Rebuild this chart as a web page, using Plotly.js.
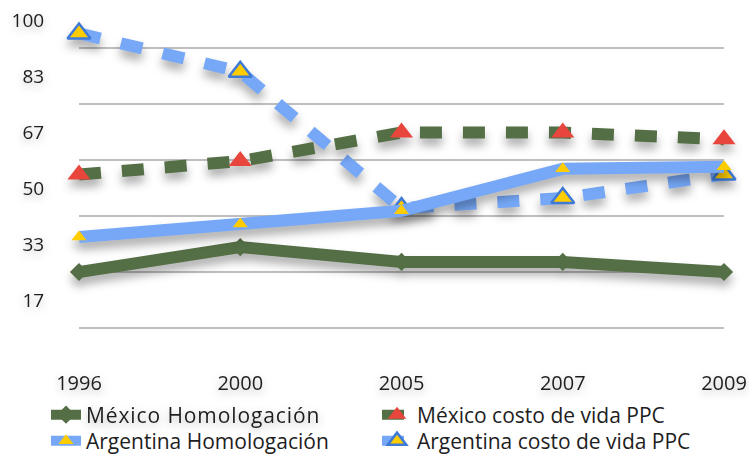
<!DOCTYPE html>
<html><head><meta charset="utf-8">
<script src="https://cdn.plot.ly/plotly-3.0.1.min.js"></script>
<style>
html,body{margin:0;padding:0;background:#fff;}
#chart{width:749px;height:457px;}
.scatterlayer .trace{filter:drop-shadow(0px 7px 5px rgba(0,0,0,0.32));}
.xtick text,.ytick text,.legendtext{filter:drop-shadow(0px 3px 4px rgba(0,0,0,0.28));}
.legendtext{letter-spacing:0.9px;}
</style></head><body><div id="chart"></div>
<script>
const years = ['1996', '2000', '2005', '2007', '2009'];
const mexicoHomologacion = [25, 32.4, 28, 28, 25];
const mexicoCostoVida = [54, 58, 66.5, 66.5, 64.5];
const argentinaHomologacion = [35.4, 39.3, 43.2, 55.7, 56.3];
const argentinaCostoVida = [96, 84.6, 44, 47, 54];
const yTickVals = [16.667, 33.333, 50, 66.667, 83.333, 100];
const yTickText = ['17', '33', '50', '67', '83', '100'];
const gridVals = [8.333, 25, 41.667, 58.333, 75, 91.667];
const seriesNames = ['México Homologación', 'México costo de vida PPC', 'Argentina Homologación', 'Argentina costo de vida PPC'];

const green = '#546f45', red = '#e8453c', blue = '#76a8f7', yellow = '#ffcc00', blueEdge = '#3f7ad6';
const dashPat = '22px,21px';

const traces = [
  {x: years, y: argentinaCostoVida, name: seriesNames[3], legend: 'legend4', mode: 'lines+markers', cliponaxis: false,
   line: {color: blue, width: 12, dash: dashPat},
   marker: {symbol: 'triangle-up', size: 20, color: yellow, line: {color: blueEdge, width: 2.5}}},
  {x: years, y: mexicoCostoVida, name: seriesNames[1], legend: 'legend2', mode: 'lines+markers', cliponaxis: false,
   line: {color: green, width: 12, dash: dashPat},
   marker: {symbol: 'triangle-up', size: 20, color: red}},
  {x: years, y: mexicoHomologacion, name: seriesNames[0], legend: 'legend', mode: 'lines+markers', cliponaxis: false,
   line: {color: green, width: 12},
   marker: {symbol: 'diamond', size: 14, color: green}},
  {x: years, y: argentinaHomologacion, name: seriesNames[2], legend: 'legend3', mode: 'lines+markers', cliponaxis: false,
   line: {color: blue, width: 12},
   marker: {symbol: 'triangle-up', size: 13, color: yellow}}
];

function leg(xpx, ypx) {
  return {orientation: 'v', xref: 'container', yref: 'container', x: xpx / 749, xanchor: 'left',
          y: 1 - ypx / 457, yanchor: 'middle', font: {size: 21}, itemwidth: 30,
          bgcolor: 'rgba(0,0,0,0)', borderwidth: 0};
}

const layout = {
  width: 749, height: 457,
  margin: {l: 79, r: 25, t: 20, b: 101, autoexpand: false},
  paper_bgcolor: '#fff', plot_bgcolor: '#fff',
  font: {family: '"Open Sans", sans-serif', color: '#1e1e1e', size: 20},
  showlegend: true,
  xaxis: {type: 'category', range: [0, 4], showgrid: false, zeroline: false, showline: false,
          ticks: 'outside', ticklen: 9, tickcolor: 'rgba(0,0,0,0)', tickfont: {size: 20}},
  yaxis: {range: [0, 100], tickvals: yTickVals, ticktext: yTickText, showgrid: false, zeroline: false,
          ticks: 'outside', ticklen: 30, tickcolor: 'rgba(0,0,0,0)', tickfont: {size: 19},
          minor: {tickvals: gridVals, showgrid: true, gridcolor: '#bfbfbf', gridwidth: 1.4, ticks: ''}},
  legend: leg(46, 415),
  legend2: leg(377, 415),
  legend3: leg(46, 441),
  legend4: leg(377, 441)
};

Plotly.newPlot('chart', traces, layout, {displayModeBar: false, staticPlot: true});
</script></body></html>
